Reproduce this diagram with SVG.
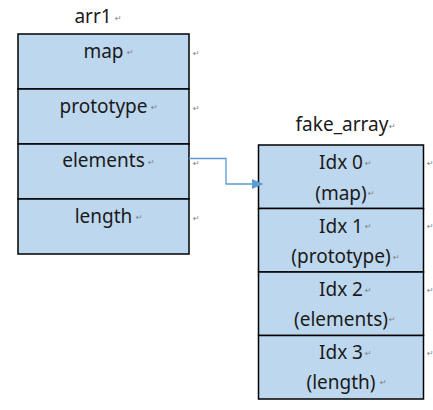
<svg xmlns="http://www.w3.org/2000/svg" width="433" height="410" viewBox="0 0 433 410">
<style>
.cell{fill:#BDD7EE;stroke:#000;stroke-width:1.5}
.t{font-family:"Noto Sans","Liberation Sans",sans-serif;font-size:19px;fill:#1a1a1a;text-anchor:middle}
.pm{font-family:"DejaVu Sans",sans-serif;font-size:8px;fill:#808080}
.conn{fill:none;stroke:#5B9BD5;stroke-width:1.3}
</style>
<defs>
<marker id="ah" markerUnits="userSpaceOnUse" markerWidth="12" markerHeight="10" refX="0" refY="5" orient="auto">
<path d="M0,0 L11.5,5 L0,10 z" fill="#5B9BD5"/>
</marker>
</defs>
<rect width="433" height="410" fill="#fff"/>

<g id="arr1">
<text class="t" x="93" y="23">arr1</text><text class="pm" x="115" y="21">↵</text>
<g id="arr1-map">
<rect class="cell" x="18" y="34" width="171" height="55"/>
<text class="t" x="103.5" y="57.5">map</text><text class="pm" x="127" y="55">↵</text>
<text class="pm" x="193" y="56">↵</text>
</g>
<g id="arr1-prototype">
<rect class="cell" x="18" y="89" width="171" height="55"/>
<text class="t" x="103.5" y="112.5">prototype</text><text class="pm" x="151" y="110">↵</text>
<text class="pm" x="193" y="111">↵</text>
</g>
<g id="arr1-elements">
<rect class="cell" x="18" y="144" width="171" height="55"/>
<text class="t" x="103.5" y="167">elements</text><text class="pm" x="148" y="165">↵</text>
<text class="pm" x="193" y="166">↵</text>
</g>
<g id="arr1-length">
<rect class="cell" x="18" y="199" width="171" height="55"/>
<text class="t" x="103.5" y="222.5">length</text><text class="pm" x="136" y="220">↵</text>
<text class="pm" x="193" y="221">↵</text>
</g>
</g>

<g id="fake_array">
<text class="t" x="342" y="131">fake_array</text><text class="pm" x="389" y="129">↵</text>
<g id="fa-0">
<rect class="cell" x="258.5" y="145" width="165" height="63.5"/>
<text class="t" x="341" y="169">Idx 0</text><text class="pm" x="365" y="166">↵</text>
<text class="t" x="341" y="199.5">(map)</text><text class="pm" x="368" y="196">↵</text>
<text class="pm" x="427" y="166">↵</text>
</g>
<g id="fa-1">
<rect class="cell" x="258.5" y="208.5" width="165" height="63.5"/>
<text class="t" x="341" y="232.5">Idx 1</text><text class="pm" x="365" y="229">↵</text>
<text class="t" x="341" y="263">(prototype)</text><text class="pm" x="393" y="260">↵</text>
<text class="pm" x="427" y="229">↵</text>
</g>
<g id="fa-2">
<rect class="cell" x="258.5" y="272" width="165" height="63.5"/>
<text class="t" x="341" y="295.5">Idx 2</text><text class="pm" x="365" y="293">↵</text>
<text class="t" x="341" y="325.5">(elements)</text><text class="pm" x="389" y="322">↵</text>
<text class="pm" x="427" y="293">↵</text>
</g>
<g id="fa-3">
<rect class="cell" x="258.5" y="335.5" width="165" height="63.5"/>
<text class="t" x="341" y="358.5">Idx 3</text><text class="pm" x="365" y="356">↵</text>
<text class="t" x="341" y="388.5">(length)</text><text class="pm" x="380" y="385">↵</text>
<text class="pm" x="427" y="356">↵</text>
</g>
</g>

<g id="connectors">
<path class="conn" d="M189,158.5 H226 V184 H252" marker-end="url(#ah)"/>
</g>
</svg>
